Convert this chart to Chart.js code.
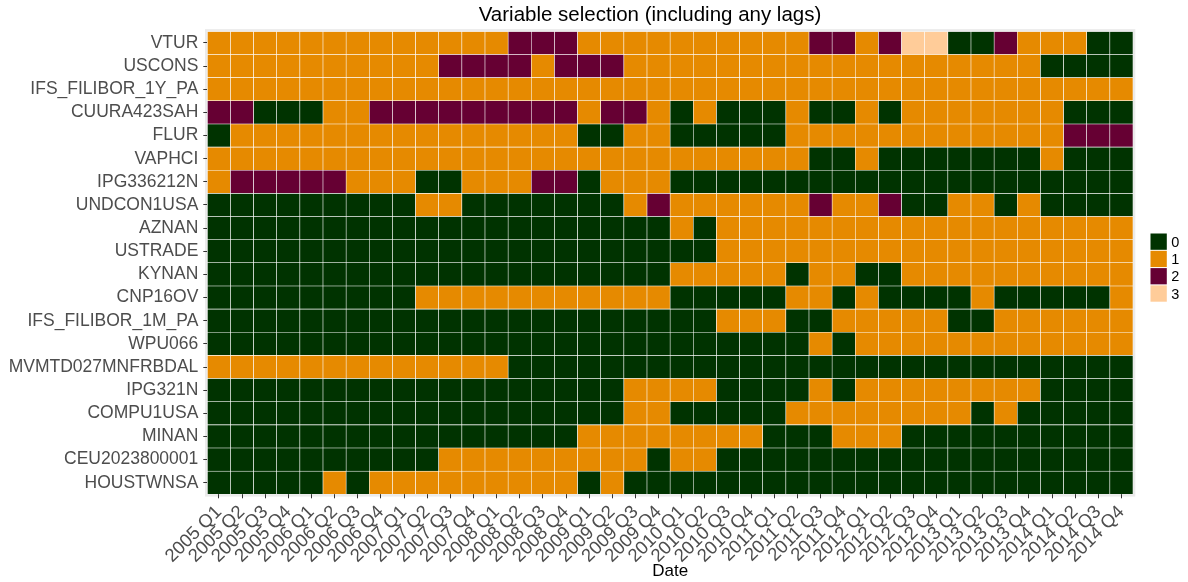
<!DOCTYPE html>
<html>
<head>
<meta charset="utf-8">
<script src="https://cdn.jsdelivr.net/npm/chart.js@4/dist/chart.umd.min.js"></script>
<style>
  html, body { margin: 0; padding: 0; background: #fff; }
  #wrap { width: 1188px; height: 582px; }
</style>
</head>
<body>
<div id="wrap"><canvas id="heat"></canvas></div>
<script>
// quarters on the x axis
const dates = [
  "2005 Q1", "2005 Q2", "2005 Q3", "2005 Q4", "2006 Q1", "2006 Q2", "2006 Q3", "2006 Q4",
  "2007 Q1", "2007 Q2", "2007 Q3", "2007 Q4", "2008 Q1", "2008 Q2", "2008 Q3", "2008 Q4",
  "2009 Q1", "2009 Q2", "2009 Q3", "2009 Q4", "2010 Q1", "2010 Q2", "2010 Q3", "2010 Q4",
  "2011 Q1", "2011 Q2", "2011 Q3", "2011 Q4", "2012 Q1", "2012 Q2", "2012 Q3", "2012 Q4",
  "2013 Q1", "2013 Q2", "2013 Q3", "2013 Q4", "2014 Q1", "2014 Q2", "2014 Q3", "2014 Q4"
];

// variables, top to bottom as in the picture
const variables = [
  "VTUR", "USCONS", "IFS_FILIBOR_1Y_PA", "CUURA423SAH", "FLUR", "VAPHCI", "IPG336212N",
  "UNDCON1USA", "AZNAN", "USTRADE", "KYNAN", "CNP16OV", "IFS_FILIBOR_1M_PA", "WPU066",
  "MVMTD027MNFRBDAL", "IPG321N", "COMPU1USA", "MINAN", "CEU2023800001", "HOUSTWNSA"
];

// selection code per quarter (0..3)
const VTUR              = [1,1,1,1,1,1,1,1,1,1, 1,1,1,2,2,2,1,1,1,1, 1,1,1,1,1,1,2,2,1,2, 3,3,0,0,2,1,1,1,0,0];
const USCONS            = [1,1,1,1,1,1,1,1,1,1, 2,2,2,2,1,2,2,2,1,1, 1,1,1,1,1,1,1,1,1,1, 1,1,1,1,1,1,0,0,0,0];
const IFS_FILIBOR_1Y_PA = [1,1,1,1,1,1,1,1,1,1, 1,1,1,1,1,1,1,1,1,1, 1,1,1,1,1,1,1,1,1,1, 1,1,1,1,1,1,1,1,1,1];
const CUURA423SAH       = [2,2,0,0,0,1,1,2,2,2, 2,2,2,2,2,2,1,2,2,1, 0,1,0,0,0,1,0,0,1,0, 1,1,1,1,1,1,1,0,0,0];
const FLUR              = [0,1,1,1,1,1,1,1,1,1, 1,1,1,1,1,1,0,0,1,1, 0,0,0,0,0,1,1,1,1,1, 1,1,1,1,1,1,1,2,2,2];
const VAPHCI            = [1,1,1,1,1,1,1,1,1,1, 1,1,1,1,1,1,1,1,1,1, 1,1,1,1,1,1,0,0,1,0, 0,0,0,0,0,0,1,0,0,0];
const IPG336212N        = [1,2,2,2,2,2,1,1,1,0, 0,1,1,1,2,2,0,1,1,1, 0,0,0,0,0,0,0,0,0,0, 0,0,0,0,0,0,0,0,0,0];
const UNDCON1USA        = [0,0,0,0,0,0,0,0,0,1, 1,0,0,0,0,0,0,0,1,2, 1,1,1,1,1,1,2,1,1,2, 0,0,1,1,0,1,0,0,0,0];
const AZNAN             = [0,0,0,0,0,0,0,0,0,0, 0,0,0,0,0,0,0,0,0,0, 1,0,1,1,1,1,1,1,1,1, 1,1,1,1,1,1,1,1,1,1];
const USTRADE           = [0,0,0,0,0,0,0,0,0,0, 0,0,0,0,0,0,0,0,0,0, 0,0,1,1,1,1,1,1,1,1, 1,1,1,1,1,1,1,1,1,1];
const KYNAN             = [0,0,0,0,0,0,0,0,0,0, 0,0,0,0,0,0,0,0,0,0, 1,1,1,1,1,0,1,1,0,0, 1,1,1,1,1,1,1,1,1,1];
const CNP16OV           = [0,0,0,0,0,0,0,0,0,1, 1,1,1,1,1,1,1,1,1,1, 0,0,0,0,0,1,1,0,1,0, 0,0,0,1,0,0,0,0,0,1];
const IFS_FILIBOR_1M_PA = [0,0,0,0,0,0,0,0,0,0, 0,0,0,0,0,0,0,0,0,0, 0,0,1,1,1,0,0,1,1,1, 1,1,0,0,1,1,1,1,1,1];
const WPU066            = [0,0,0,0,0,0,0,0,0,0, 0,0,0,0,0,0,0,0,0,0, 0,0,0,0,0,0,1,0,1,1, 1,1,1,1,1,1,1,1,1,1];
const MVMTD027MNFRBDAL  = [1,1,1,1,1,1,1,1,1,1, 1,1,1,0,0,0,0,0,0,0, 0,0,0,0,0,0,0,0,0,0, 0,0,0,0,0,0,0,0,0,0];
const IPG321N           = [0,0,0,0,0,0,0,0,0,0, 0,0,0,0,0,0,0,0,1,1, 1,1,0,0,0,0,1,0,1,1, 1,1,1,1,1,1,0,0,0,0];
const COMPU1USA         = [0,0,0,0,0,0,0,0,0,0, 0,0,0,0,0,0,0,0,1,1, 0,0,0,0,0,1,1,1,1,1, 1,1,1,0,1,0,0,0,0,0];
const MINAN             = [0,0,0,0,0,0,0,0,0,0, 0,0,0,0,0,0,1,1,1,1, 1,1,1,1,0,0,0,1,1,1, 0,0,0,0,0,0,0,0,0,0];
const CEU2023800001     = [0,0,0,0,0,0,0,0,0,0, 1,1,1,1,1,1,1,1,1,0, 1,1,0,0,0,0,0,0,0,0, 0,0,0,0,0,0,0,0,0,0];
const HOUSTWNSA         = [0,0,0,0,0,1,0,1,1,1, 1,1,1,1,1,1,0,1,0,0, 0,0,0,0,0,0,0,0,0,0, 0,0,0,0,0,0,0,0,0,0];

const rows = [
  VTUR, USCONS, IFS_FILIBOR_1Y_PA, CUURA423SAH, FLUR, VAPHCI, IPG336212N, UNDCON1USA,
  AZNAN, USTRADE, KYNAN, CNP16OV, IFS_FILIBOR_1M_PA, WPU066, MVMTD027MNFRBDAL, IPG321N,
  COMPU1USA, MINAN, CEU2023800001, HOUSTWNSA
];

const codes = ["0", "1", "2", "3"];
const codeColors = ["#003300", "#E68A00", "#660033", "#FFCC99"];

const FONT = "'Liberation Sans', Arial, sans-serif";

// stack from the bottom row up, one unit per tile
const datasets = rows.slice().reverse().map((row, i) => ({
  label: variables[variables.length - 1 - i],
  data: row.map(() => 1),
  backgroundColor: row.map(c => codeColors[c]),
  borderColor: "#ffffff",
  borderWidth: 0.6,
  borderSkipped: false,
  barPercentage: 1,
  categoryPercentage: 1,
}));

// grey panel behind the tiles, title and legend
const ggExtras = {
  id: "ggExtras",
  beforeDraw(chart) {
    const { ctx, chartArea: a } = chart;
    const ex = 2.3;
    ctx.save();
    ctx.fillStyle = "#EBEBEB";
    ctx.fillRect(a.left - ex, a.top - ex, a.right - a.left + 2 * ex, a.bottom - a.top + 2 * ex);
    ctx.restore();
  },
  afterDraw(chart) {
    const { ctx } = chart;
    ctx.save();
    ctx.fillStyle = "#000";
    ctx.font = "20.5px " + FONT;
    ctx.textAlign = "center";
    ctx.textBaseline = "middle";
    ctx.fillText("Variable selection (including any lags)", 650, 15);

    // legend
    const lx = 1150, ly = 233, sz = 17.3;
    ctx.font = "14.5px " + FONT;
    ctx.textAlign = "left";
    codes.forEach((c, i) => {
      ctx.fillStyle = "#ffffff";
      ctx.fillRect(lx, ly + i * sz, sz, sz);
      ctx.fillStyle = codeColors[i];
      ctx.fillRect(lx + 0.5, ly + i * sz + 0.5, sz - 1, sz - 1);
      ctx.fillStyle = "#000";
      ctx.fillText(c, lx + sz + 4, ly + i * sz + sz / 2 + 1);
    });
    ctx.restore();
  }
};

const config = {
  type: "bar",
  data: { labels: dates, datasets: datasets },
  options: {
    responsive: true,
    maintainAspectRatio: false,
    animation: false,
    layout: { padding: { top: 31.4, right: 55, bottom: 0, left: 0 } },
    plugins: {
      legend: { display: false },
      tooltip: { enabled: false },
    },
    scales: {
      x: {
        stacked: true,
        offset: true,
        afterFit: (s) => { s.height = 87.7; },
        grid: { display: true, offset: false, drawOnChartArea: false, drawTicks: true, tickLength: 4, color: "#333333" },
        border: { display: false },
        ticks: {
          autoSkip: false,
          minRotation: 45,
          maxRotation: 45,
          padding: 3,
          color: "#4D4D4D",
          font: { family: FONT, size: 18.5 },
        },
        title: {
          display: true,
          text: "Date",
          color: "#000",
          font: { family: FONT, size: 17 },
          padding: { top: 0, bottom: 0 },
        },
      },
      y: {
        stacked: true,
        min: 0,
        max: variables.length,
        afterFit: (s) => { s.width = 207.3; },
        afterBuildTicks: (s) => {
          s.ticks = variables.map((v, i) => ({ value: variables.length - i - 0.5 }));
        },
        grid: { display: true, drawOnChartArea: false, drawTicks: true, tickLength: 4, color: "#333333" },
        border: { display: false },
        ticks: {
          padding: 5,
          color: "#4D4D4D",
          font: { family: FONT, size: 17.5 },
          callback: (value) => variables[Math.round(variables.length - 0.5 - value)],
        },
      },
    },
  },
  plugins: [ggExtras],
};

const ctx = document.getElementById("heat").getContext("2d");
new Chart(ctx, config);
</script>
</body>
</html>
